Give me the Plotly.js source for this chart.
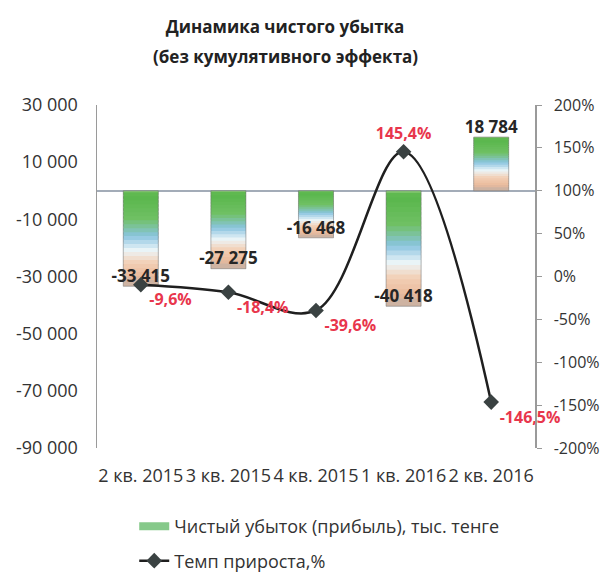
<!DOCTYPE html>
<html>
<head>
<meta charset="utf-8">
<script src="https://cdn.plot.ly/plotly-3.0.1.min.js"></script>
<style>html,body{margin:0;padding:0;background:#fff;}#chart{width:604px;height:578px;}</style>
</head>
<body>
<div id="chart"></div>
<script>
// ---- data ----
const categories = ['2 кв. 2015', '3 кв. 2015', '4 кв. 2015', '1 кв. 2016', '2 кв. 2016'];
const netLoss = [-33415, -27275, -16468, -40418, 18784];
const netLossLabels = ['-33 415', '-27 275', '-16 468', '-40 418', '18 784'];
const growthRate = [-9.6, -18.4, -39.6, 145.4, -146.5];
const growthLabels = ['-9,6%', '-18,4%', '-39,6%', '145,4%', '-146,5%'];
const leftTickVals = [30000, 10000, -10000, -30000, -50000, -70000, -90000];
const leftTickText = ['30 000', '10 000', '-10 000', '-30 000', '-50 000', '-70 000', '-90 000'];
const rightTickVals = [200, 150, 100, 50, 0, -50, -100, -150, -200];
const rightTickText = ['200%', '150%', '100%', '50%', '0%', '-50%', '-100%', '-150%', '-200%'];
const titleLine1 = 'Динамика чистого убытка';
const titleLine2 = '(без кумулятивного эффекта)';
const seriesBarName = 'Чистый убыток (прибыль), тыс. тенге';
const seriesLineName = 'Темп прироста,%';

// ---- styling helpers ----
const FONT = 'Open Sans, Noto Sans, sans-serif';
const stops = [
  [0.00, [150, 208, 128]],
  [0.07, [88, 182, 74]],
  [0.32, [112, 192, 100]],
  [0.50, [138, 196, 224]],
  [0.65, [236, 245, 248]],
  [0.78, [242, 207, 181]],
  [0.92, [234, 186, 156]],
  [1.00, [196, 176, 164]]
];
function grad(t) {
  for (let i = 0; i < stops.length - 1; i++) {
    const a = stops[i], b = stops[i + 1];
    if (t >= a[0] && t <= b[0]) {
      const f = (t - a[0]) / (b[0] - a[0]);
      const c = a[1].map((v, k) => Math.round(v + (b[1][k] - v) * f));
      return 'rgb(' + c.join(',') + ')';
    }
  }
  return 'rgb(' + stops[stops.length - 1][1].join(',') + ')';
}

const traces = [];
const N = 24;
for (let k = 0; k < N; k++) {
  const t = (k + 0.5) / N;
  const over = k === 0 ? 1 : 1.6; // overlap to hide seams
  traces.push({
    type: 'bar',
    x: categories,
    y: netLoss.map(v => over * Math.abs(v) / N),
    base: netLoss.map(v => Math.max(0, v) - (k + 1) * Math.abs(v) / N),
    width: 0.4,
    marker: { color: grad(t), line: { width: 0 } },
    showlegend: false,
    hoverinfo: 'skip',
    yaxis: 'y'
  });
}
// subtle edge outline
traces.push({
  type: 'bar',
  x: categories,
  y: netLoss,
  width: 0.4,
  marker: { color: 'rgba(0,0,0,0)', line: { width: 1, color: 'rgba(110,110,110,0.5)' } },
  showlegend: false,
  hoverinfo: 'skip',
  yaxis: 'y'
});
// legend entry for bars (wide flat swatch)
traces.push({
  type: 'scatter',
  mode: 'lines',
  x: [null],
  y: [null],
  line: { color: '#86c98a', width: 8 },
  name: seriesBarName,
  legendgroup: 'bars',
  hoverinfo: 'skip',
  yaxis: 'y'
});
// bar value labels
traces.push({
  type: 'scatter',
  mode: 'text',
  x: categories,
  y: netLoss,
  text: netLossLabels,
  textposition: 'top center',
  textfont: { family: FONT, size: 17, color: '#262626', weight: 'bold' },
  showlegend: false,
  hoverinfo: 'skip',
  cliponaxis: false,
  yaxis: 'y'
});
// growth rate line
traces.push({
  type: 'scatter',
  mode: 'lines+markers+text',
  x: categories,
  y: growthRate,
  text: growthLabels,
  textposition: ['bottom right', 'bottom right', 'bottom right', 'top center', 'bottom right'],
  textfont: { family: FONT, size: 16, color: '#e8364c', weight: 'bold' },
  line: { color: '#1f1f1f', width: 2.5, shape: 'spline', smoothing: 1 },
  marker: { symbol: 'diamond', size: 12, color: '#3a4242' },
  name: seriesLineName,
  legendgroup: 'line',
  hoverinfo: 'skip',
  cliponaxis: false,
  yaxis: 'y2'
});

const layout = {
  width: 604,
  height: 578,
  margin: { l: 97, r: 69, t: 105, b: 130, autoexpand: false },
  paper_bgcolor: '#fff',
  plot_bgcolor: '#fff',
  font: { family: FONT, color: '#333' },
  title: {
    text: '<b>' + titleLine1 + '</b>',
    font: { family: FONT, size: 17, color: '#222' },
    x: 0.472, xanchor: 'center', xref: 'container',
    y: 0.953, yanchor: 'middle', yref: 'container'
  },
  annotations: [{
    text: '<b>' + titleLine2 + '</b>',
    xref: 'paper', yref: 'paper',
    x: 0.43, y: 1.14, xanchor: 'center', yanchor: 'middle',
    showarrow: false,
    font: { family: FONT, size: 17, color: '#222' }
  }],
  barmode: 'overlay',
  bargap: 0.6,
  showlegend: true,
  legend: {
    x: 0.085, xanchor: 'left',
    y: -0.175, yanchor: 'top',
    orientation: 'v',
    traceorder: 'grouped',
    tracegroupgap: 8,
    font: { family: FONT, size: 18, color: '#333' },
    itemwidth: 30
  },
  xaxis: {
    type: 'category',
    showline: false,
    showgrid: false,
    zeroline: false,
    ticks: '',
    tickfont: { family: FONT, size: 18, color: '#333' },
    ticklabelstandoff: 15,
    automargin: false
  },
  yaxis: {
    range: [-90000, 30000],
    tickvals: leftTickVals,
    ticktext: leftTickText,
    showgrid: false,
    showline: true,
    linecolor: '#9a9a9a',
    linewidth: 1.5,
    ticks: '',
    zeroline: true,
    zerolinecolor: '#a3acb8',
    zerolinewidth: 1.5,
    tickfont: { family: FONT, size: 18, color: '#333' },
    ticklabelstandoff: 14,
    automargin: false
  },
  yaxis2: {
    range: [-200, 200],
    overlaying: 'y',
    side: 'right',
    tickvals: rightTickVals,
    ticktext: rightTickText,
    showgrid: false,
    zeroline: false,
    showline: true,
    linecolor: '#9a9a9a',
    linewidth: 1.5,
    ticks: 'outside',
    ticklen: 5,
    tickcolor: '#9a9a9a',
    tickfont: { family: FONT, size: 16, color: '#333' },
    ticklabelstandoff: 9,
    automargin: false
  }
};

Plotly.newPlot('chart', traces, layout, { displayModeBar: false, staticPlot: true });
</script>
</body>
</html>
